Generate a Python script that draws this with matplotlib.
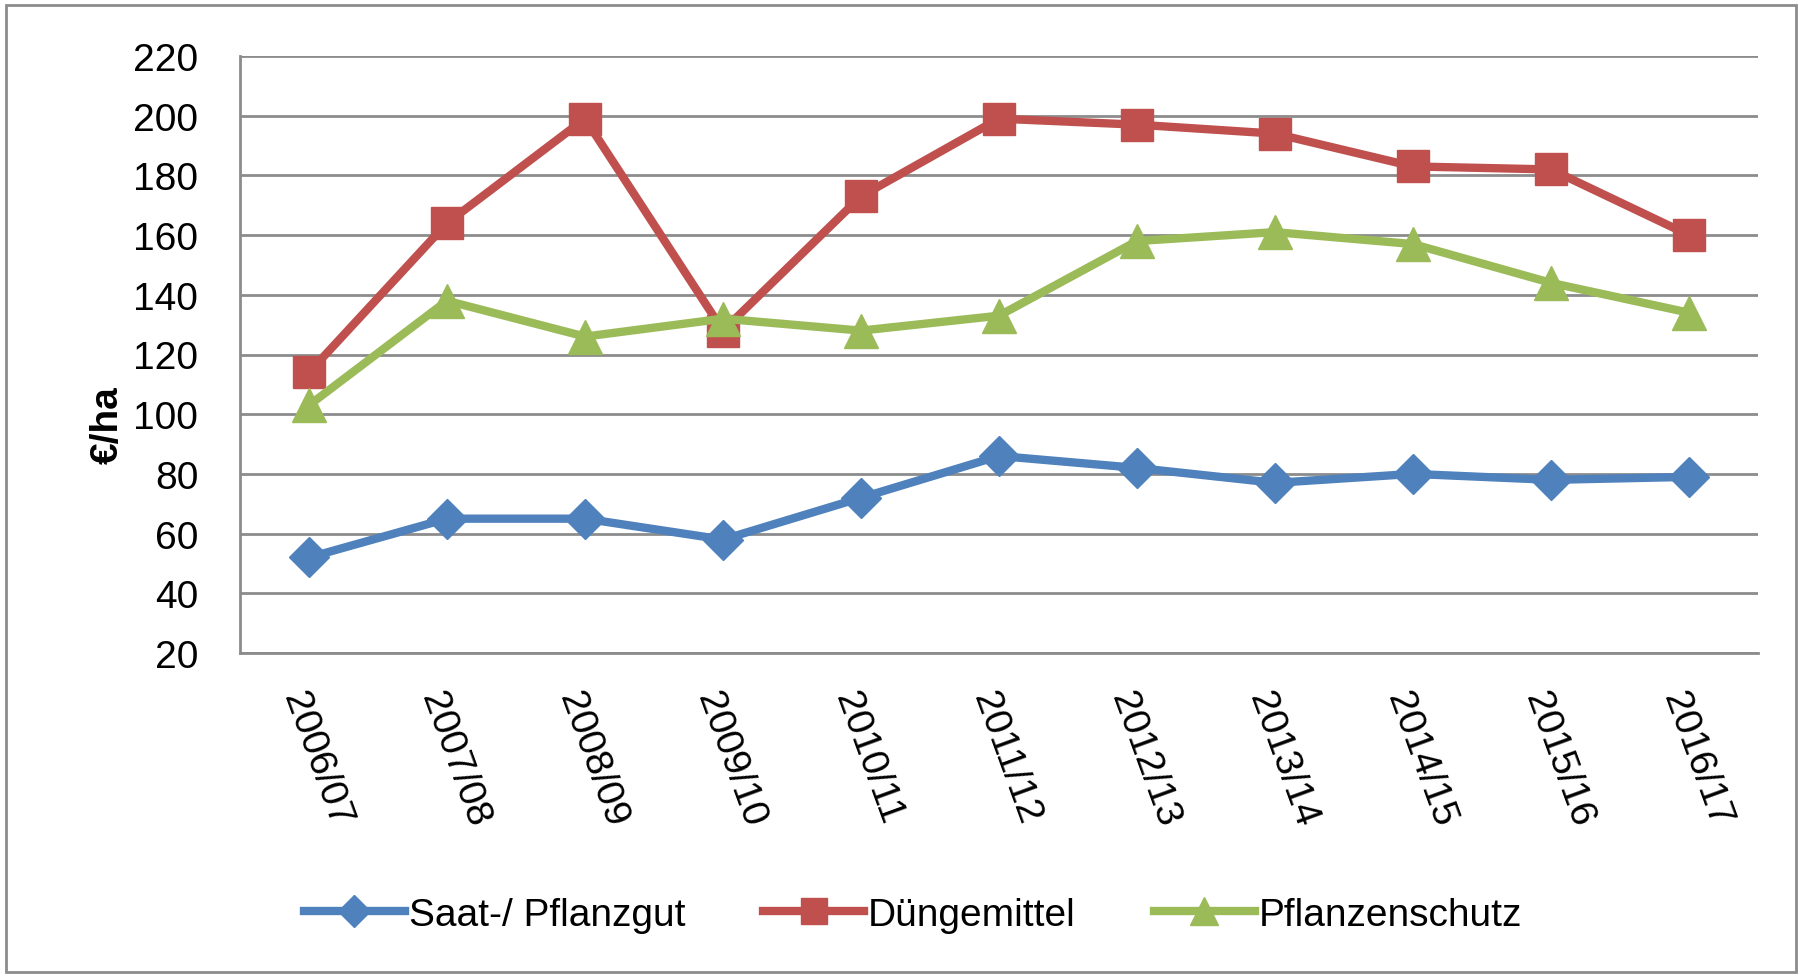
import matplotlib.pyplot as plt
from matplotlib.patches import Rectangle

plt.rcParams['font.family'] = ['Liberation Sans', 'DejaVu Sans']

jahre = ['2006/07', '2007/08', '2008/09', '2009/10', '2010/11', '2011/12',
         '2012/13', '2013/14', '2014/15', '2015/16', '2016/17']
saat = [52, 65, 65, 58, 72, 86, 82, 77, 80, 78, 79]
duenger = [114, 164, 199, 128, 173, 199, 197, 194, 183, 182, 160]
schutz = [103, 138, 126, 132, 128, 133, 158, 161, 157, 144, 134]

fig = plt.figure(figsize=(18.02, 9.79), dpi=100)
ax = fig.add_axes([240 / 1802, 1 - 654 / 979, 1518 / 1802, 597 / 979])

x = range(len(jahre))
ax.plot(x, saat, color='#4F81BD', lw=6, marker='D', ms=20, label='Saat-/ Pflanzgut')
ax.plot(x, duenger, color='#C0504D', lw=6, marker='s', ms=23, label='Düngemittel')
ax.plot(x, schutz, color='#9BBB59', lw=6, marker='^', ms=25, label='Pflanzenschutz')

ax.set_xlim(-0.5, len(jahre) - 0.5)
ax.set_ylim(20, 220)
ax.set_yticks(range(20, 221, 20))
ax.set_xticks(list(x))
ax.set_xticklabels(jahre, rotation=-70, ha='left', va='top', rotation_mode='anchor')
ax.tick_params(axis='y', length=0, labelsize=28, pad=30)
ax.tick_params(axis='x', length=0, labelsize=28, pad=24)
ax.grid(axis='y', color='#8C8C8C', lw=2)
ax.set_axisbelow(True)
for s in ['top', 'right']:
    ax.spines[s].set_visible(False)
for s in ['left', 'bottom']:
    ax.spines[s].set_color('#8C8C8C')
    ax.spines[s].set_linewidth(2)
ax.set_ylabel('€/ha', fontsize=28, fontweight='bold')
ax.yaxis.set_label_coords(-(240 - 126) / 1518, 0.384)

fig.legend(loc='center', bbox_to_anchor=(913 / 1802, 1 - 916 / 979), ncol=3,
           frameon=False, fontsize=28, handlelength=2.6, columnspacing=2.0,
           handletextpad=0.1, markerscale=0.8)

fig.patches.append(Rectangle((6 / 1802, 6 / 979), 1 - 12 / 1802, 1 - 12 / 979,
                             transform=fig.transFigure, fill=False,
                             edgecolor='#8C8C8C', lw=2))

plt.savefig('out.png')
